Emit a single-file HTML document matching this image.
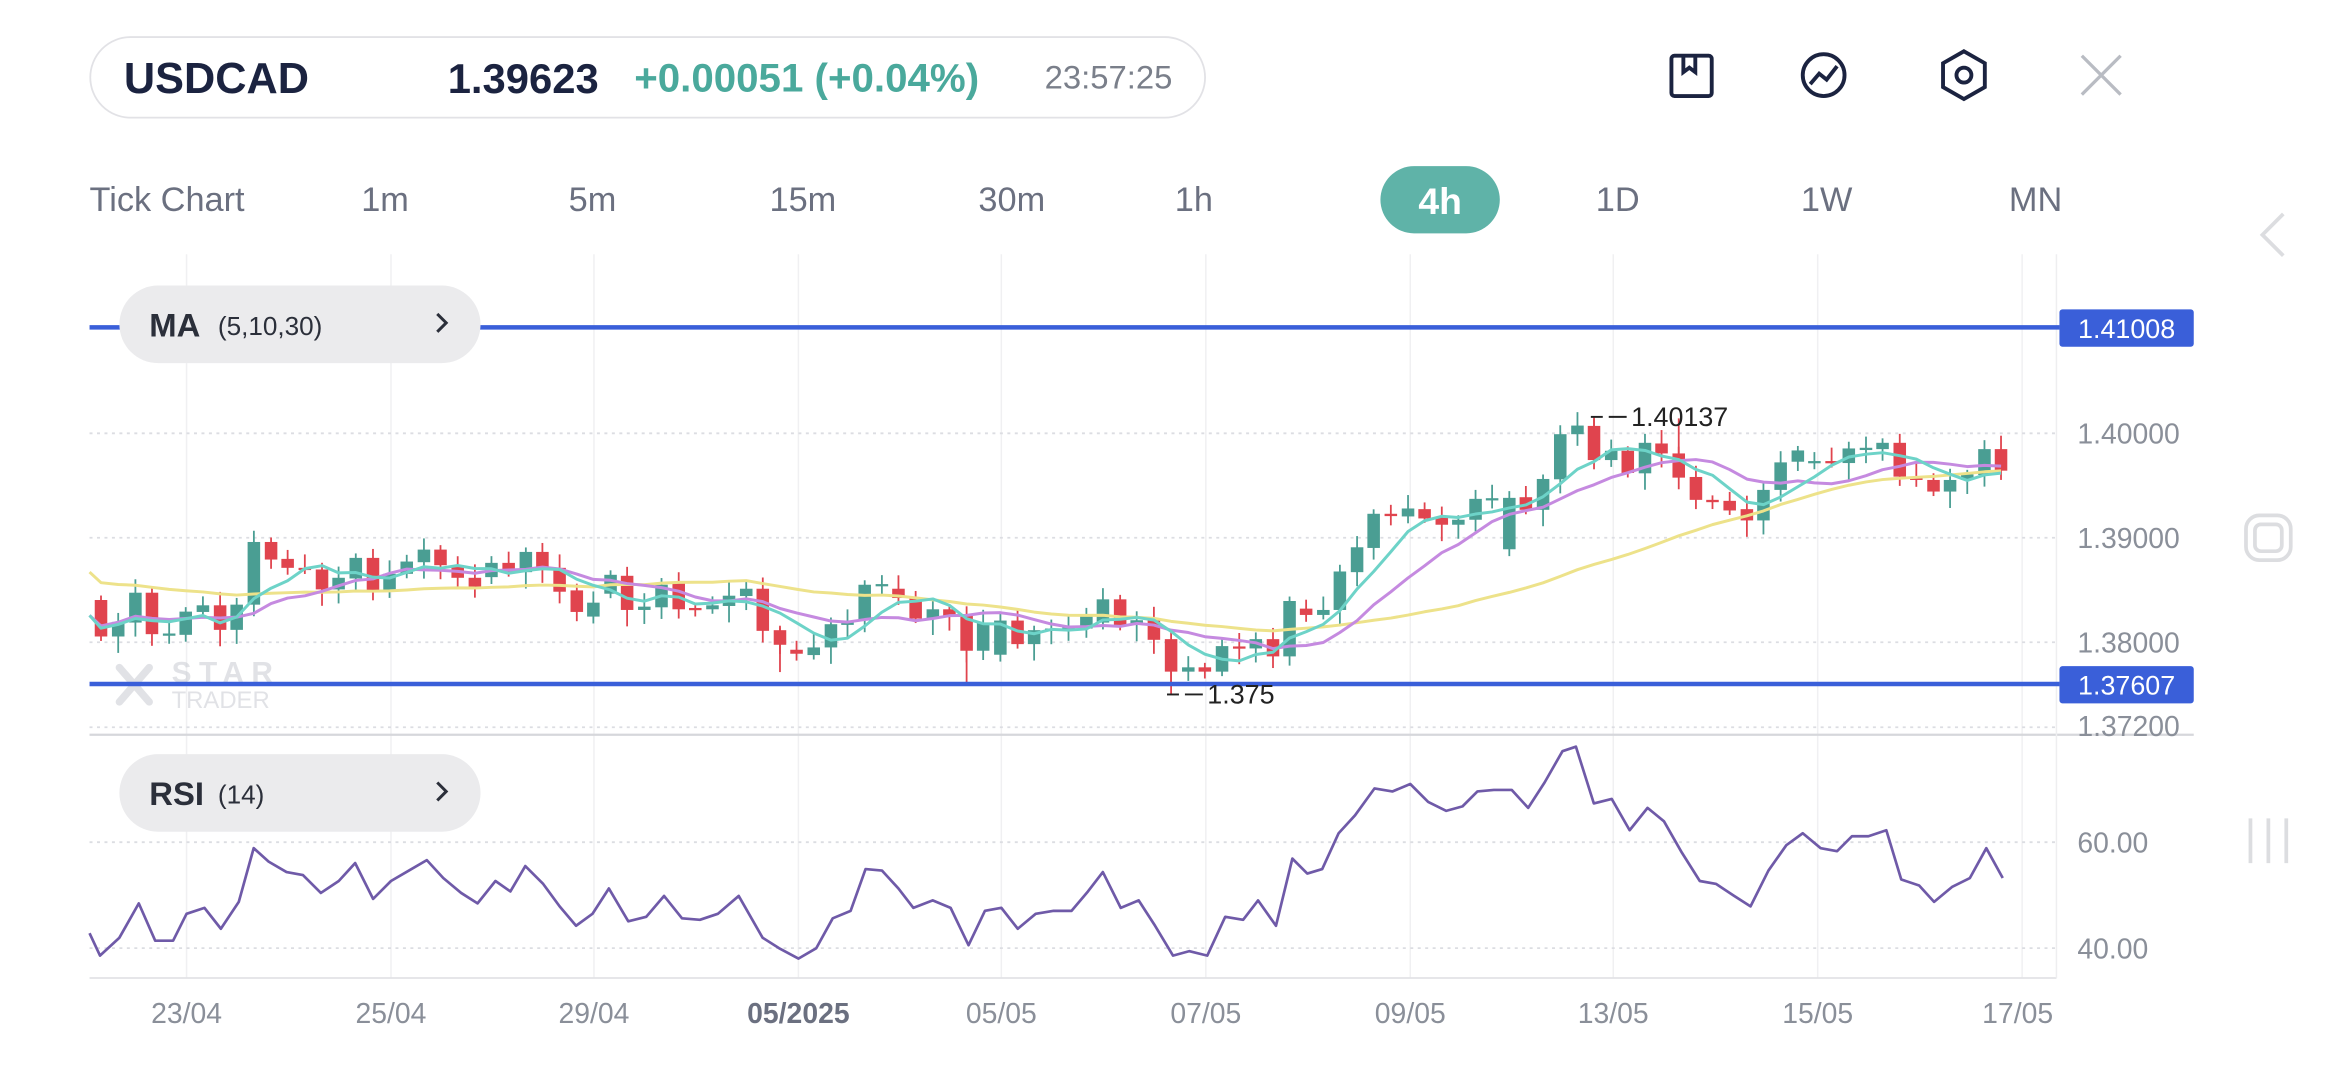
<!DOCTYPE html>
<html><head><meta charset="utf-8">
<style>
html,body{margin:0;padding:0;background:#fff;}
svg{display:block;}
text{font-family:"Liberation Sans",sans-serif;}
</style></head>
<body>
<svg id="s" width="2340" height="1080" viewBox="0 0 1568 723" xmlns="http://www.w3.org/2000/svg">
<rect width="1568" height="723" fill="#fff"/>
<!-- header -->
<rect x="60.5" y="24.5" width="747" height="54" rx="27" fill="#fff" stroke="#e2e2e6" stroke-width="1.2"/>
<text x="83" y="62" font-size="29" font-weight="bold" fill="#1b2340">USDCAD</text>
<text x="300" y="62" font-size="28" font-weight="bold" fill="#1b2340">1.39623</text>
<text x="425" y="61" font-size="27" font-weight="bold" fill="#4aa99c">+0.00051 (+0.04%)</text>
<text x="700" y="59" font-size="22" fill="#7a7f8a">23:57:25</text>
<!-- icons -->
<g fill="none" stroke="#1b2340" stroke-width="2.6">
<rect x="1120" y="37" width="27" height="27" rx="2"/>
<path d="M1128 37 v11 l4 -3 l4 3 v-11"/>
<circle cx="1222" cy="50" r="14"/>
<path d="M1213 56 l6 -7 l5 4 l7 -9"/>
<path d="M1316 34 l14 8 v16 l-14 8 l-14 -8 v-16 z"/>
<circle cx="1316" cy="50" r="5"/>
</g>
<g stroke="#b9bcc3" stroke-width="2.2"><path d="M1395 37 L1421 63 M1421 37 L1395 63"/></g>
<!-- timeframe -->
<text x="60" y="141" font-size="23" fill="#6b7080">Tick Chart</text>
<g font-size="23" fill="#6b7080" text-anchor="middle">
<text x="258" y="141">1m</text>
<text x="397" y="141">5m</text>
<text x="538" y="141">15m</text>
<text x="678" y="141">30m</text>
<text x="800" y="141">1h</text>
<text x="1084" y="141">1D</text>
<text x="1224" y="141">1W</text>
<text x="1364" y="141">MN</text>
</g>
<rect x="925" y="111" width="80" height="45" rx="22.5" fill="#5fb3a8"/>
<text x="965" y="143" font-size="25" font-weight="bold" fill="#fff" text-anchor="middle">4h</text>
<!-- right faint icons -->
<g fill="none" stroke="#dcdde0" stroke-width="2.5">
<path d="M1530 143 l-14 14 l14 14"/>
<rect x="1505" y="345" width="30" height="30" rx="9"/>
<rect x="1511" y="351" width="18" height="18" rx="4"/>
<path d="M1508 548 v30 M1520 548 v30 M1532 548 v30"/>
</g>
<!-- grid -->
<g id="grid" stroke="#f0f0f2" stroke-width="1"></g>
<g stroke="#dcdde2" stroke-width="1.2" stroke-dasharray="2 3">
<line x1="60" y1="290" x2="1378" y2="290"/>
<line x1="60" y1="360" x2="1378" y2="360"/>
<line x1="60" y1="430" x2="1378" y2="430"/>
<line x1="60" y1="487" x2="1378" y2="487"/>
<line x1="60" y1="564" x2="1378" y2="564"/>
<line x1="60" y1="635" x2="1378" y2="635"/>
</g>
<line x1="60" y1="492" x2="1470" y2="492" stroke="#d6d7db" stroke-width="1.5"/>
<line x1="60" y1="655" x2="1378" y2="655" stroke="#e2e3e6" stroke-width="1.2"/>
<line x1="1378" y1="170" x2="1378" y2="655" stroke="#eeeef0" stroke-width="1"/>
<!-- watermark -->
<g opacity="0.55">
<g stroke="#c9ccd3" stroke-width="5" stroke-linecap="round"><path d="M80 447 L100 470 M100 447 L80 470"/></g>
<text x="115" y="457" font-size="20" font-weight="bold" fill="#c9ccd3" letter-spacing="5">STAR</text>
<text x="115" y="474" font-size="16" fill="#c9ccd3">TRADER</text>
</g>
<g id="candles"></g>
<g id="mas" fill="none" stroke-width="2" stroke-linejoin="round"></g>
<!-- blue lines -->
<line x1="60" y1="219" x2="1380" y2="219" stroke="#3a5fd9" stroke-width="3"/>
<line x1="60" y1="458" x2="1380" y2="458" stroke="#3a5fd9" stroke-width="3"/>
<rect x="1380" y="207" width="90" height="25" rx="2" fill="#3a5fd9"/>
<rect x="1380" y="446" width="90" height="25" rx="2" fill="#3a5fd9"/>
<text x="1425" y="226" font-size="18" fill="#fff" text-anchor="middle">1.41008</text>
<text x="1425" y="465" font-size="18" fill="#fff" text-anchor="middle">1.37607</text>
<g font-size="19" fill="#8a8f99">
<text x="1392" y="297">1.40000</text>
<text x="1392" y="367">1.39000</text>
<text x="1392" y="437">1.38000</text>
<text x="1392" y="493">1.37200</text>
<text x="1392" y="571">60.00</text>
<text x="1392" y="642">40.00</text>
</g>
<!-- hi/lo labels -->
<g stroke="#222" stroke-width="1.3"><line x1="1066" y1="279" x2="1074" y2="279"/><line x1="1078" y1="279" x2="1090" y2="279"/>
<line x1="782" y1="465" x2="790" y2="465"/><line x1="794" y1="465" x2="806" y2="465"/></g>
<text x="1093" y="285" font-size="18" fill="#222">1.40137</text>
<text x="809" y="471" font-size="18" fill="#222">1.375</text>
<!-- pills -->
<rect x="80" y="191" width="242" height="52" rx="26" fill="#ebebed"/>
<text x="100" y="225" font-size="22" font-weight="bold" fill="#2b2f3a">MA</text>
<text x="146" y="224" font-size="17.5" fill="#2b2f3a">(5,10,30)</text>
<path d="M293 210 l6 6 l-6 6" fill="none" stroke="#2b2f3a" stroke-width="2"/>
<rect x="80" y="505" width="242" height="52" rx="26" fill="#ebebed"/>
<text x="100" y="539" font-size="22" font-weight="bold" fill="#2b2f3a">RSI</text>
<text x="146" y="538" font-size="17.5" fill="#2b2f3a">(14)</text>
<path d="M293 524 l6 6 l-6 6" fill="none" stroke="#2b2f3a" stroke-width="2"/>
<!-- RSI -->
<polyline fill="none" stroke="#6f5aa8" stroke-width="1.8" stroke-linejoin="round" points="60,625 67,640 80,628 93,605 104,630 116,630 125,612 137,608 148,622 160,604 170,568 180,577 192,584 203,586 215,598 227,590 238,578 250,602 262,590 274,583 286,576 297,588 309,598 320,605 332,590 342,597 352,580 364,592 375,607 386,620 397,612 408,595 421,617 433,614 445,600 457,615 469,616 481,612 495,600 511,628 522,635 535,642 547,635 558,615 570,610 580,582 591,583 602,595 612,608 625,603 637,608 649,633 660,610 671,608 682,622 694,612 706,610 718,610 729,597 739,584 751,608 763,603 774,620 786,640 797,637 809,640 821,614 833,616 843,603 855,620 866,575 876,585 886,582 897,558 908,546 921,528 933,530 945,525 957,537 969,543 980,540 990,530 1001,529 1013,529 1024,541 1035,524 1047,503 1056,500 1068,538 1080,535 1092,556 1104,541 1115,550 1127,571 1139,590 1150,592 1162,600 1173,607 1185,583 1197,566 1208,558 1220,568 1231,570 1241,560 1252,560 1264,556 1274,589 1286,593 1296,604 1308,594 1320,588 1331,568 1342,588"/>
<!-- dates -->
<g font-size="19" fill="#8a8f99" text-anchor="middle">
<text x="125" y="685">23/04</text>
<text x="262" y="685">25/04</text>
<text x="398" y="685">29/04</text>
<text x="535" y="685" font-weight="bold" fill="#6b7080">05/2025</text>
<text x="671" y="685">05/05</text>
<text x="808" y="685">07/05</text>
<text x="945" y="685">09/05</text>
<text x="1081" y="685">13/05</text>
<text x="1218" y="685">15/05</text>
<text x="1352" y="685">17/05</text>
</g>
</svg>
<script>
var NS="http://www.w3.org/2000/svg";
function el(t,a,p){var e=document.createElementNS(NS,t);for(var k in a)e.setAttribute(k,a[k]);p.appendChild(e);return e;}
var g=document.getElementById('grid');
[125,262,398,535,671,808,945,1081,1218,1355].forEach(function(x){el('line',{x1:x,y1:170,x2:x,y2:655},g);});
var z1=[[33,'R',662,772],[60,'G',728,772],[87,'G',640,730],[113,'R',640,765],[140,'G',763,766],[166,'G',697,767],[193,'G',678,698],[220,'R',678,752],[246,'G',676,752],[273,'G',487,676],[300,'R',487,540],[326,'R',538,565],[353,'R',565,570],[380,'R',570,630],[406,'G',595,630],[433,'G',535,597],[460,'R',535,635],[486,'G',583,635],[513,'G',546,583],[540,'G',510,548],[566,'R',510,557],[593,'R',557,595],[620,'R',595,627],[646,'G',550,593],[673,'R',550,578],[700,'G',517,578],[726,'R',517,568],[753,'R',565,637],[780,'R',633,698],[806,'G',670,712],[833,'G',586,643],[859,'R',589,692],[886,'G',682,692],[913,'G',616,684],[940,'R',612,690],[966,'R',686,691],[993,'G',678,690],[1019,'G',649,680],[1046,'G',628,650],[1072,'R',628,755],[1099,'R',753,797],[1125,'R',812,824],[1152,'G',805,828],[1179,'G',735,805],[1205,'G',724,737],[1232,'G',616,724],[1259,'G',614,618],[1285,'R',628,656],[1312,'R',655,718],[1339,'G',690,718],[1365,'R',690,712],[1392,'R',708,815],[1418,'G',732,815],[1445,'G',724,827],[1472,'R',724,795],[1498,'G',753,795],[1525,'G',748,753],[1552,'G',745,750]];
var z2=[[10,'G',706,748],[36,'G',660,730],[63,'R',660,740],[89,'G',723,737],[116,'R',723,782],[143,'R',780,878],[170,'G',865,878],[196,'R',865,878],[223,'G',801,878],[250,'R',802,806],[276,'G',780,808],[303,'R',780,832],[329,'G',665,832],[355,'R',688,707],[382,'G',692,707],[408,'G',576,692],[435,'G',503,578],[461,'G',402,505],[488,'R',402,409],[515,'G',386,410],[541,'R',388,416],[568,'R',414,435],[594,'G',420,435],[621,'G',357,420],[647,'G',355,358],[674,'G',354,509],[700,'R',352,390],[727,'G',297,390],[754,'G',162,298],[781,'G',136,162],[807,'R',137,240],[834,'G',212,240],[860,'R',212,279],[887,'G',188,280],[913,'R',190,220],[940,'R',220,293],[967,'R',291,360],[993,'R',360,367],[1020,'R',363,392],[1047,'R',388,422],[1073,'G',330,422],[1100,'G',247,330],[1127,'G',211,245],[1153,'G',243,247],[1180,'R',243,249],[1207,'G',205,249],[1234,'G',203,207],[1260,'G',188,207],[1287,'R',188,290],[1313,'R',290,300],[1340,'R',300,335],[1366,'G',300,335],[1393,'G',283,300],[1420,'G',207,285],[1446,'R',207,272]];
var C=[];
function conv(a,ox){a.forEach(function(c){C.push({x:ox+c[0]/2.343,col:c[1],t:254.6+c[2]/4.5,b:254.6+c[3]/4.5});});}
conv(z1,53.6);conv(z2,723.7);
var cg=document.getElementById('candles');
C.forEach(function(c,i){
 var col=c.col=='G'?'#4a9e93':'#e0444e';
 var w1=3+((i*7)%5)*1.5, w2=3+((i*11)%6)*1.6;
 var hi=c.t-w1, lo=c.b+w2;
 el('line',{x1:c.x,y1:hi,x2:c.x,y2:lo,stroke:col,'stroke-width':1.2},cg);
 var h=Math.max(1.5,c.b-c.t);
 el('rect',{x:c.x-4.2,y:c.t,width:8.4,height:h,fill:col},cg);
 c.close=c.col=='G'?c.t:c.b;
});
function wick(xz,ox,y,col){el('line',{x1:ox+xz/2.343,y1:y[0],x2:ox+xz/2.343,y2:y[1],stroke:col,'stroke-width':1.2},cg);}
wick(807,723.7,[279,290],'#e0444e');wick(143,723.7,[448,465],'#e0444e');wick(940,723.7,[280,305],'#e0444e');
wick(1392,53.6,[430,458],'#e0444e');wick(1099,53.6,[420,450],'#e0444e');
var cl=C.map(function(c){return c.close;});
var pad=[];for(var i=0;i<30;i++)pad.push(392+(i<10?-10:0));
var all=pad.concat(cl);
function ma(n,color){
 var pts=[];
 for(var i=0;i<cl.length;i++){var s=0;var k=i+30;for(var j=0;j<n;j++)s+=all[k-j];var v=s/n;
  if(n<30 && i<n){var s2=0,m=0;for(var j=0;j<=i;j++){s2+=cl[j];m++;}v=(s2/m+(n==5?415:412))/2;}
  pts.push(C[i].x.toFixed(1)+','+v.toFixed(1));}
 el('polyline',{points:(n==30?'60,383 ':'60,412 ')+pts.join(' '),stroke:color},document.getElementById('mas'));
}
ma(30,'#ede28a');ma(10,'#c58ae0');ma(5,'#6dd3c8');
</script>
</body></html>
